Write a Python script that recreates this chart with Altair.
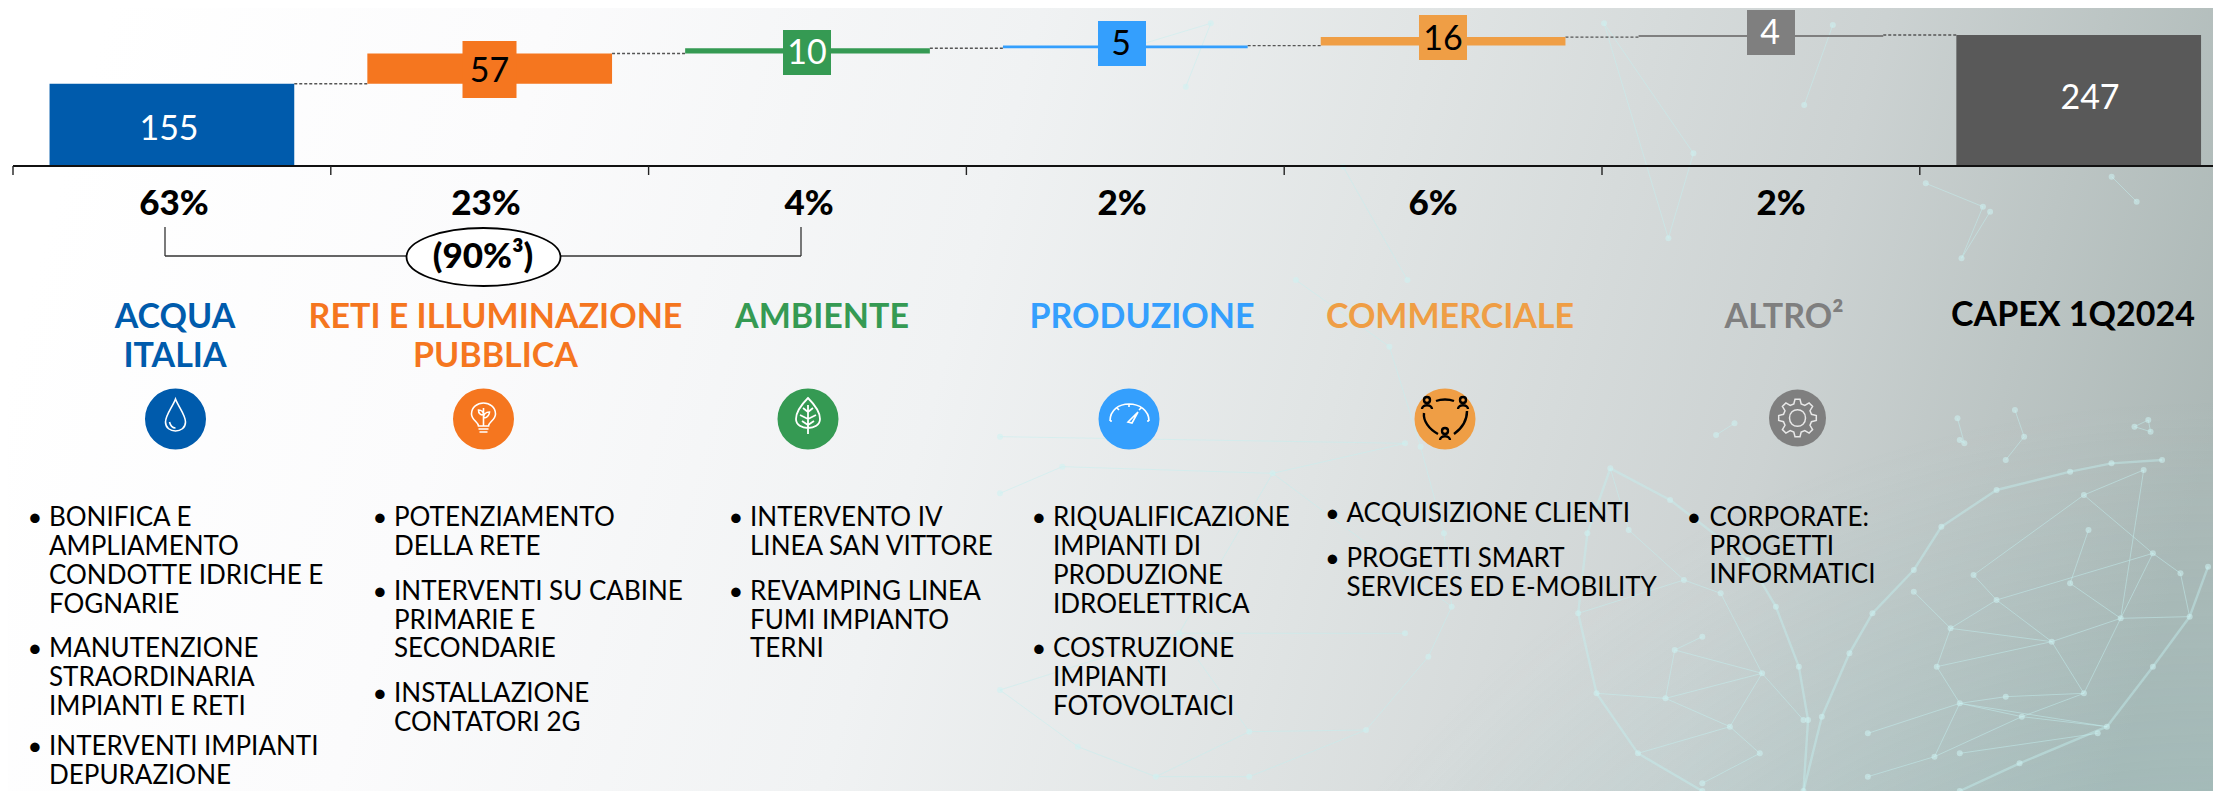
import math
import altair as alt
import pandas as pd

# ---------- chart values ----------
CATEGORIES = ["ACQUA ITALIA", "RETI E ILLUMINAZIONE PUBBLICA", "AMBIENTE", "PRODUZIONE", "COMMERCIALE", "ALTRO", "CAPEX 1Q2024"]
VALUES = [155, 57, 10, 5, 16, 4]
TOTAL = 247
PERCENTS = ["63%", "23%", "4%", "2%", "6%", "2%"]
COLORS = ["#005bac", "#f5761f", "#359a53", "#349ffd", "#ef9e45", "#7f7f7f", "#595959"]
LABEL_COLORS = ["white", "black", "white", "black", "black", "white", "white"]

TITLES = [
    ["ACQUA", "ITALIA"], ["RETI E ILLUMINAZIONE", "PUBBLICA"], ["AMBIENTE"],
    ["PRODUZIONE"], ["COMMERCIALE"], ["ALTRO²"], ["CAPEX 1Q2024"],
]
BULLETS = [
    [["BONIFICA E", "AMPLIAMENTO", "CONDOTTE IDRICHE E", "FOGNARIE"],
     ["MANUTENZIONE", "STRAORDINARIA", "IMPIANTI E RETI"],
     ["INTERVENTI IMPIANTI", "DEPURAZIONE"]],
    [["POTENZIAMENTO", "DELLA RETE"],
     ["INTERVENTI SU CABINE", "PRIMARIE E", "SECONDARIE"],
     ["INSTALLAZIONE", "CONTATORI 2G"]],
    [["INTERVENTO IV", "LINEA SAN VITTORE"],
     ["REVAMPING LINEA", "FUMI IMPIANTO", "TERNI"]],
    [["RIQUALIFICAZIONE", "IMPIANTI DI", "PRODUZIONE", "IDROELETTRICA"],
     ["COSTRUZIONE", "IMPIANTI", "FOTOVOLTAICI"]],
    [["ACQUISIZIONE CLIENTI"],
     ["PROGETTI  SMART", "SERVICES ED E-MOBILITY"]],
    [["CORPORATE:", "PROGETTI", "INFORMATICI"]],
]

# ---------- layout (picture pixels) ----------
W, H, M = 2213, 791, 8   # right and bottom end of the drawing area
X0, STEP = 13.0, 317.8
Y0, PPU = 166.0, 0.5304
BAR_HALF = 0.385
FONT = "Lato"

def cx(px):
    return (px - X0) / STEP

def vy(py):
    return (Y0 - py) / PPU

XS = alt.Scale(domain=[cx(M), cx(W)], nice=False, zero=False)
YS = alt.Scale(domain=[vy(H), vy(M)], nice=False, zero=False)

def X(f="x"):
    return alt.X(f"{f}:Q", scale=XS, axis=None)

def Y(f="y"):
    return alt.Y(f"{f}:Q", scale=YS, axis=None)

# ---------- background ----------
bg_data = pd.DataFrame({"x": [cx(M)], "x2": [cx(W)], "y": [vy(M)], "y2": [vy(H)]})

def bg(grad):
    return alt.Chart(bg_data).mark_rect(color=grad).encode(x=X(), x2="x2:Q", y=Y(), y2="y2:Q")

bg1 = bg(alt.LinearGradient(gradient="linear", x1=0, y1=0.45, x2=1, y2=0.55, stops=[
    alt.GradientStop(color="#ffffff", offset=0),
    alt.GradientStop(color="#fbfbfc", offset=0.2),
    alt.GradientStop(color="#f0f2f3", offset=0.42),
    alt.GradientStop(color="#e0e4e4", offset=0.6),
    alt.GradientStop(color="#ccd2d2", offset=0.8),
    alt.GradientStop(color="#acb8b6", offset=1),
]))
bg2 = bg(alt.RadialGradient(gradient="radial", x1=1, y1=1, r1=0, x2=1, y2=1, r2=0.5, stops=[
    alt.GradientStop(color="rgba(130,195,195,0.55)", offset=0),
    alt.GradientStop(color="rgba(130,195,195,0)", offset=1),
]))

# network decoration (zoom-crop coordinates of the lower right part)
def zr(p):
    return (1500 + p[0] / 2.175, 400 + p[1] / 3)

def zt(p):
    return (1100 + p[0] / 1.3987, p[1] / 3)

def zl(p):
    return (1000 + p[0] / 1.284, 280 + p[1] / 3)

OUT_R = [(1560,200),(1440,180),(1330,190),(1240,215),(1080,270),(960,380),(900,510),(810,640),(760,760),(700,950),(660,1173)]
OUT_R2 = [(1560,200),(1565,340),(1540,500),(1500,650),(1420,800),(1320,980),(1130,1090),(1000,1173)]
OUT_L = [(240,205),(370,300),(540,480),(600,620),(650,800),(670,960),(660,1173)]
OUT_L2 = [(240,205),(190,400),(170,640),(210,880),(300,1060),(440,1173)]
IN_R = [((1080,600),(980,685)),((980,685),(1200,725)),((1200,725),(1080,600)),((1420,460),(1080,600)),
        ((1420,460),(1270,285)),((1270,285),(1030,525)),((1030,525),(1080,600)),((980,685),(900,575)),
        ((950,800),(980,685)),((950,800),(1200,725)),((950,800),(1000,910)),((1000,910),(1100,890)),
        ((1100,890),(1270,880)),((1270,880),(1350,655)),((1350,655),(1420,460)),((1200,725),(1350,655)),
        ((1200,725),(1270,880)),((1000,910),(800,1000)),((1000,910),(1135,950)),((1135,950),(1270,880)),
        ((1135,950),(945,1070)),((945,1070),(1000,910)),((945,1070),(800,1130)),((1135,950),(1320,980)),
        ((1420,460),(1480,520)),((1480,520),(1500,650)),((1350,655),(1500,650)),((1280,390),(1240,550)),
        ((1240,550),(1350,655)),((240,205),(280,390)),((280,390),(400,540)),((400,540),(480,580)),
        ((400,540),(170,640)),((380,750),(440,710)),((380,750),(570,820)),((570,820),(480,580)),
        ((570,820),(360,895)),((360,895),(210,880)),((360,895),(500,980)),((500,980),(570,820)),
        ((500,980),(300,1060)),((500,980),(565,1060)),((565,1060),(440,1150)),((380,750),(360,895)),
        ((570,820),(660,960)),((1000,1060),(1300,1000)),((1000,910),(1320,980)),((1400,210),(1350,655)),
        ((1400,210),(1270,285)),((1000,120),(1010,130)),((1120,30),(1140,110)),((1140,110),(1100,180)),
        ((1410,60),(1380,80)),((1380,80),(1415,95)),((1410,60),(1415,95)),((470,105),(510,70)),((995,55),(1010,130))]
TOP = [((705,70),(830,460)),((830,460),(795,715)),((705,70),(795,715)),((985,315),(1025,75)),
       ((1155,550),(1235,620)),((1235,620),(1205,775)),((1245,635),(1205,775)),((1415,530),(1450,605)),
       ((200,0),(340,500)),((340,500),(430,840)),((155,70),(0,170)),((155,70),(120,260))]
OUT_M = [(0,1230),(100,1400),(200,1490),(320,1490),(470,1350),(550,1130),(580,980),(570,760),(540,500),(500,200),(380,0)]
IN_M = [((350,580),(520,490)),((80,560),(350,580)),((350,580),(580,980)),((80,560),(0,640)),
        ((320,1355),(470,1350)),((320,1355),(200,1490)),((320,1355),(230,1060)),((230,1060),(520,1060)),
        ((230,1060),(0,1230)),((350,580),(230,1060)),((520,490),(0,470))]

def polyline(pts, conv):
    return [(conv(a), conv(b)) for a, b in zip(pts, pts[1:])]

def in_area(e):
    return all(M <= p[0] <= W and M <= p[1] <= H for p in e)

edges = [e for e in polyline(OUT_R, zr) + polyline(OUT_R2, zr) + polyline(OUT_L, zr) + polyline(OUT_L2, zr) if in_area(e)]
thin = [e for e in [(zr(a), zr(b)) for a, b in IN_R] + [(zt(a), zt(b)) for a, b in TOP] +
        polyline(OUT_M, zl) + [(zl(a), zl(b)) for a, b in IN_M] if in_area(e)]

def edge_df(es):
    return pd.DataFrame([{"x": cx(a[0]), "x2": cx(b[0]), "y": vy(a[1]), "y2": vy(b[1])} for a, b in es])

bg_thick = alt.Chart(edge_df(edges)).mark_rule(stroke="#c4efef", strokeWidth=2.4, opacity=0.45).encode(x=X(), x2="x2:Q", y=Y(), y2="y2:Q")
bg_thin = alt.Chart(edge_df(thin)).mark_rule(stroke="#c4efef", strokeWidth=1, opacity=0.5).encode(x=X(), x2="x2:Q", y=Y(), y2="y2:Q")
nodes = sorted({p for e in edges + thin for p in e})
bg_nodes = alt.Chart(pd.DataFrame({"x": [cx(p[0]) for p in nodes], "y": [vy(p[1]) for p in nodes]})).mark_circle(
    color="#cdf3f3", size=36, opacity=0.55).encode(x=X(), y=Y())

# ---------- waterfall ----------
rows, cum = [], 0
for i, v in enumerate(VALUES):
    rows.append({"x": i + 0.5 - BAR_HALF, "x2": i + 0.5 + BAR_HALF, "y": cum, "y2": cum + v, "c": COLORS[i]})
    cum += v
rows.append({"x": 6.5 - BAR_HALF, "x2": 6.5 + BAR_HALF, "y": 0, "y2": TOTAL, "c": COLORS[6]})
bars = alt.Chart(pd.DataFrame(rows)).mark_rect().encode(
    x=X(), x2="x2:Q", y=Y(), y2="y2:Q", color=alt.Color("c:N", scale=None))

conn = []
for a, b in zip(rows[:-1], rows[1:]):
    level = max(a["y"], a["y2"])
    conn.append({"x": a["x2"], "x2": b["x"], "y": level})
connectors = alt.Chart(pd.DataFrame(conn)).mark_rule(stroke="#555555", strokeWidth=1.4, strokeDash=[3, 2]).encode(
    x=X(), x2="x2:Q", y=Y())

# value boxes behind the labels (centre x, top, bottom in picture pixels)
BOX_X = [489.5, 807, 1122, 1443, 1771]
BOX_T = [41, 30, 21, 15, 10]
BOX_B = [98, 75, 66, 60, 55]
BOX_W = [54, 48, 48, 48, 48]
boxes = alt.Chart(pd.DataFrame([
    {"x": cx(BOX_X[i] - BOX_W[i] / 2), "x2": cx(BOX_X[i] + BOX_W[i] / 2), "y": vy(BOX_T[i]), "y2": vy(BOX_B[i]), "c": COLORS[i + 1]}
    for i in range(5)
])).mark_rect().encode(x=X(), x2="x2:Q", y=Y(), y2="y2:Q", color=alt.Color("c:N", scale=None))

def text_layer(items, size, weight="normal", align="center", dy=0):
    df = pd.DataFrame([{"x": cx(px), "y": vy(py), "t": t, "c": c} for px, py, t, c in items])
    return alt.Chart(df).mark_text(font=FONT, fontSize=size, fontWeight=weight, align=align, baseline="middle", dy=dy).encode(
        x=X(), y=Y(), text="t:N", color=alt.Color("c:N", scale=None))

VAL_X = [169, 489.5, 807, 1121, 1443, 1770, 2090]
VAL_Y = [128, 70, 52, 43, 38, 32, 97]
val_text = text_layer([(VAL_X[i], VAL_Y[i], str(v), LABEL_COLORS[i]) for i, v in enumerate(VALUES + [TOTAL])], 34, dy=2)

# axis
axis_line = alt.Chart(pd.DataFrame({"x": [0.0], "x2": [cx(W)], "y": [0.0]})).mark_rule(stroke="#111111", strokeWidth=2.2).encode(
    x=X(), x2="x2:Q", y=Y())
ticks = alt.Chart(pd.DataFrame({"x": list(range(7)), "y": [0.0] * 7, "y2": [vy(175)] * 7})).mark_rule(stroke="#222222", strokeWidth=1.4).encode(
    x=X(), y=Y(), y2="y2:Q")

PCT_X = [174, 486, 809, 1122, 1433, 1781]
pct_text = text_layer([(PCT_X[i], 204, p, "black") for i, p in enumerate(PERCENTS)], 35, 900)

# bracket
BR = [((165, 227), (165, 256)), ((165, 256), (406, 256)), ((561, 256), (801, 256)), ((801, 256), (801, 227))]
bracket = alt.Chart(edge_df(BR)).mark_rule(stroke="#333333", strokeWidth=1.3).encode(x=X(), x2="x2:Q", y=Y(), y2="y2:Q")
ELLIPSE = "M-77,0 C-77,-16 -43,-29 0,-29 C43,-29 77,-16 77,0 C77,16 43,29 0,29 C-43,29 -77,16 -77,0 Z"
ell = alt.Chart(pd.DataFrame({"x": [cx(483.5)], "y": [vy(257)]})).mark_point(
    shape=ELLIPSE, size=4, filled=True, fill="white", stroke="black", strokeWidth=1.8, opacity=1).encode(x=X(), y=Y())
ell_text = text_layer([(483, 257, "(90%³)", "black")], 35, 900)

# titles
TITLE_X = [175, 495.5, 822, 1142, 1450, 1784, 2073]
t_items = []
for i, lines in enumerate(TITLES):
    for j, l in enumerate(lines):
        y = 316 if i == 6 else 318 + j * 39
        t_items.append((TITLE_X[i], y, l, "black" if i == 6 else COLORS[i]))
title_text = text_layer(t_items, 34, "bold")

# icons
ICON_X = [175.5, 483.5, 808, 1129, 1445, 1797.5]
ICON_D = [61, 61, 61, 61, 61, 57]
disc = alt.Chart(pd.DataFrame([
    {"x": cx(ICON_X[i]), "y": vy(419 if i < 5 else 418), "c": COLORS[i], "s": ICON_D[i] ** 2} for i in range(6)
])).mark_point(filled=True, shape="circle", opacity=1).encode(
    x=X(), y=Y(), fill=alt.Fill("c:N", scale=None), size=alt.Size("s:Q", scale=None))

def person(x, y):
    return (f"M{x-5},{y+6} C{x-5},{y+1} {x+5},{y+1} {x+5},{y+6} "
            f"M{x-3},{y-3} C{x-3},{y-7} {x+3},{y-7} {x+3},{y-3} C{x+3},{y+1} {x-3},{y+1} {x-3},{y-3} ")

def gear():
    pts = []
    for k in range(8):
        a = k * math.pi / 4
        for da, r in ((-0.26, 14.5), (-0.13, 19), (0.13, 19), (0.26, 14.5)):
            pts.append((r * math.sin(a + da), -r * math.cos(a + da)))
    d = "M" + " L".join(f"{x:.1f},{y:.1f}" for x, y in pts) + " Z "
    return d + "M-8,0 C-8,-11 8,-11 8,0 C8,11 -8,11 -8,0 Z"

DROP = "M0,-19 C-3,-11 -10,-3 -10,4 C-10,10 -5,13 0,13 C5,13 10,10 10,4 C10,-3 3,-11 0,-19 Z M-6,4 C-5,8 -3,10 0,10"
BULB = ("M-5,8 C-5,4 -12,2 -12,-4 C-12,-11 -6,-15 0,-15 C6,-15 12,-11 12,-4 C12,2 5,4 5,8 Z M-5,11 L5,11 M-4,14 L4,14 "
        "M0,8 L0,-10 M0,-3 C-5,-3 -5,-7 -5,-8 C-2,-8 0,-6 0,-3 M0,0 C5,0 6,-5 6,-6 C2,-6 0,-3 0,0")
LEAF = ("M0,-20 C-6,-14 -12,-6 -12,1 C-12,7 -6,10 0,10 C6,10 12,7 12,1 C12,-6 6,-14 0,-20 Z M0,-13 L0,16 "
        "M0,-6 L-5,-10 M0,-6 L5,-10 M0,1 L-8,-3 M0,1 L8,-3 M0,7 L-6,3 M0,7 L6,3")
GAUGE = ("M-19,3 C-19,-8 -10,-14 0,-14 C10,-14 20,-8 20,3 M-19,3 L-17,3 M20,3 L18,3 M0,-14 L0,-11 M-12,-10 L-10,-8 M12,-10 L10,-8 "
         "M-1,4 L9,-6 L3,5 Z")
PEOPLE = (person(-18, -15) + person(18, -15) + person(0, 16) +
          "M-9,-17 C-4,-19 4,-19 9,-17 M-21,-5 C-22,3 -16,11 -7,16 M22,-7 C22,3 16,11 9,16")

def icon(i, path, color, sw):
    return alt.Chart(pd.DataFrame({"x": [cx(ICON_X[i])], "y": [vy(418)]})).mark_point(
        shape=path, size=4, filled=False, stroke=color, strokeWidth=sw, opacity=1).encode(x=X(), y=Y())

icons = [icon(0, DROP, "white", 1.6), icon(1, BULB, "white", 1.6), icon(2, LEAF, "white", 1.8),
         icon(3, GAUGE, "white", 1.6), icon(4, PEOPLE, "black", 2.4), icon(5, gear(), "#e8e8e8", 1.5)]

# bullet lists
BUL_X = [35, 380, 736, 1039, 1332.5, 1694]
TXT_X = [49, 394, 750, 1053, 1346.5, 1709.5]
LINE_Y = [
    [[518, 547, 576, 605], [649, 678, 707], [747, 776]],
    [[518, 547], [592, 621, 649], [694, 723]],
    [[518, 547], [592, 621, 649]],
    [[518, 547, 576, 605], [649, 678, 707]],
    [[514], [559, 588]],
    [[518, 547, 575]],
]
b_items, d_items = [], []
for c, col in enumerate(BULLETS):
    for g, group in enumerate(col):
        d_items.append((BUL_X[c], LINE_Y[c][g][0], "•", "black"))
        for l, line in enumerate(group):
            b_items.append((TXT_X[c], LINE_Y[c][g][l], line, "black"))
bullet_text = text_layer(b_items, 26, align="left")
dot_text = text_layer(d_items, 25.5, align="center")

chart = alt.layer(
    bg1, bg2, bg_thick, bg_thin, bg_nodes,
    connectors, bars, boxes, val_text, axis_line, ticks, pct_text,
    bracket, ell, ell_text, title_text, disc, *icons, bullet_text, dot_text,
).properties(
    width=W - M, height=H - M, padding=0, autosize=alt.AutoSizeParams(type="none"), background="transparent"
).configure_view(stroke=None)

chart.save("out.html", embed_options={"renderer": "svg", "actions": False})
